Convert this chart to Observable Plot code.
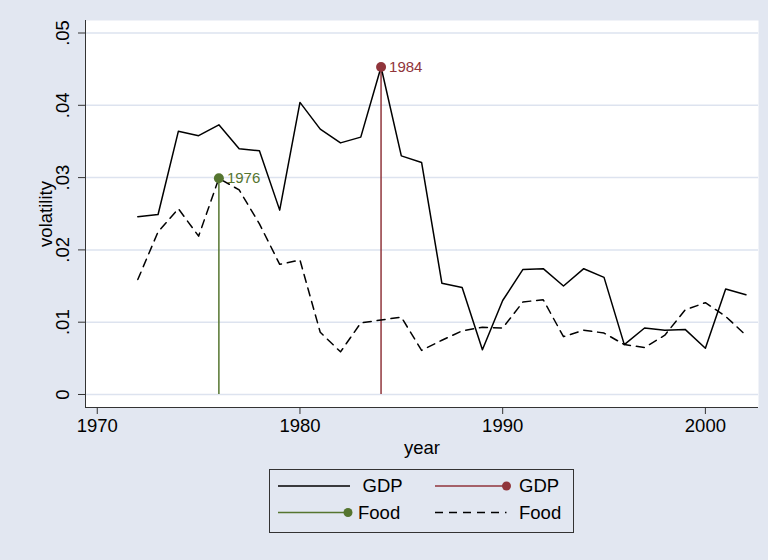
<!DOCTYPE html>
<html>
<head>
<meta charset="utf-8">
<script src="https://cdn.jsdelivr.net/npm/d3@7"></script>
<script src="https://cdn.jsdelivr.net/npm/@observablehq/plot@0.6"></script>
<style>
  html, body { margin: 0; padding: 0; background: #e2e7f1; }
  #wrap { position: relative; width: 768px; height: 560px; background: #e2e7f1; font-family: "Liberation Sans", Arial, sans-serif; }
  #legend { position: absolute; left: 269px; top: 469px; }
</style>
</head>
<body>
<div id="wrap"><div id="chart"></div><div id="legend"></div></div>
<script>
const years = [1972,1973,1974,1975,1976,1977,1978,1979,1980,1981,1982,1983,1984,1985,1986,1987,1988,1989,1990,1991,1992,1993,1994,1995,1996,1997,1998,1999,2000,2001,2002];
const gdp = [0.0246,0.0249,0.0364,0.0358,0.0373,0.0340,0.0337,0.0255,0.0404,0.0367,0.0348,0.0356,0.0453,0.0330,0.0321,0.0154,0.0148,0.0062,0.0130,0.0173,0.0174,0.0150,0.0174,0.0162,0.0069,0.0092,0.0089,0.0090,0.0064,0.0146,0.0138];
const food = [0.0159,0.0225,0.0257,0.0219,0.0299,0.0283,0.0236,0.0180,0.0186,0.0086,0.0059,0.0099,0.0103,0.0107,0.0061,0.0075,0.0088,0.0093,0.0092,0.0128,0.0131,0.0080,0.0089,0.0085,0.0069,0.0065,0.0082,0.0117,0.0127,0.0108,0.0082];
const gdpPeakYear = 1984;
const foodPeakYear = 1976;
const xTicks = [1970, 1980, 1990, 2000];
const yTicks = [0, 0.01, 0.02, 0.03, 0.04, 0.05];
const legendLabels = ["GDP", "GDP", "Food", "Food"];

const red = "#90353b", green = "#55752f", axisColor = "#333";
const gdpRows = years.map((y, i) => ({year: y, v: gdp[i]}));
const foodRows = years.map((y, i) => ({year: y, v: food[i]}));
const gdpPeak = gdpRows.filter(d => d.year === gdpPeakYear);
const foodPeak = foodRows.filter(d => d.year === foodPeakYear);
const xDom = [1969.42, 2002.62], yDom = [-0.0018, 0.05173];
const fmtY = d => d === 0 ? "0" : String(d).replace(/^0\./, ".");

const chart = Plot.plot({
  width: 768, height: 460,
  marginLeft: 85, marginRight: 10, marginTop: 20, marginBottom: 53,
  style: {background: "transparent", fontFamily: "'Liberation Sans', Arial, sans-serif", fontSize: "18.5px", color: "#000"},
  x: {domain: xDom, axis: null},
  y: {domain: yDom, axis: null},
  marks: [
    Plot.frame({fill: "white", stroke: null}),
    Plot.gridY(yTicks, {stroke: "#dde3ef", strokeOpacity: 1, strokeWidth: 1.5}),
    Plot.ruleX([xDom[0]], {stroke: axisColor, strokeWidth: 1}),
    Plot.ruleY([yDom[0]], {stroke: axisColor, strokeWidth: 1}),
    Plot.axisY(yTicks, {tickSize: 7, tickFormat: () => "", label: null, stroke: axisColor}),
    Plot.axisX(xTicks, {tickSize: 7, tickPadding: 4, fontSize: 18.5, tickFormat: d => String(d), label: null, stroke: axisColor, fill: "#000"}),
    Plot.text(yTicks, {y: d => d, text: fmtY, frameAnchor: "left", dx: -17, rotate: -90, textAnchor: "middle", lineAnchor: "bottom", fontSize: 18.5, fill: "#000"}),
    Plot.text(["volatility"], {frameAnchor: "left", dx: -34, rotate: -90, textAnchor: "middle", lineAnchor: "bottom", fontSize: 18.5, fill: "#000"}),
    Plot.text(["year"], {frameAnchor: "bottom", dy: 46, lineAnchor: "bottom", fontSize: 18.5, fill: "#000"}),
    Plot.ruleX(gdpPeak, {x: "year", y1: 0, y2: "v", stroke: red, strokeWidth: 1.5}),
    Plot.ruleX(foodPeak, {x: "year", y1: 0, y2: "v", stroke: green, strokeWidth: 1.5}),
    Plot.line(gdpRows, {x: "year", y: "v", stroke: "black", strokeWidth: 1.5}),
    Plot.line(foodRows, {x: "year", y: "v", stroke: "black", strokeWidth: 1.5, strokeDasharray: "8,6"}),
    Plot.dot(gdpPeak, {x: "year", y: "v", r: 5, fill: red, stroke: null}),
    Plot.dot(foodPeak, {x: "year", y: "v", r: 5, fill: green, stroke: null}),
    Plot.text(gdpPeak, {x: "year", y: "v", text: d => String(d.year), dx: 8, textAnchor: "start", fontSize: 15, fill: red}),
    Plot.text(foodPeak, {x: "year", y: "v", text: d => String(d.year), dx: 8, textAnchor: "start", fontSize: 15, fill: green})
  ]
});
document.getElementById("chart").appendChild(chart);

// Legend (HTML/SVG below the plot)
const lg = d3.select("#legend").append("svg").attr("width", 305).attr("height", 65)
  .style("font-family", "'Liberation Sans', Arial, sans-serif").style("font-size", "18.5px");
lg.append("rect").attr("x", 0.5).attr("y", 0.5).attr("width", 304).attr("height", 63).attr("fill", "none").attr("stroke", "#333");
const r1 = 17, r2 = 43.5;
lg.append("line").attr("x1", 9).attr("x2", 81).attr("y1", r1).attr("y2", r1).attr("stroke", "black").attr("stroke-width", 1.5);
lg.append("text").attr("x", 93.5).attr("y", r1).attr("dy", "0.35em").text(legendLabels[0]);
lg.append("line").attr("x1", 166).attr("x2", 237.5).attr("y1", r1).attr("y2", r1).attr("stroke", red).attr("stroke-width", 1.5);
lg.append("circle").attr("cx", 237.5).attr("cy", r1).attr("r", 4.5).attr("fill", red);
lg.append("text").attr("x", 250).attr("y", r1).attr("dy", "0.35em").text(legendLabels[1]);
lg.append("line").attr("x1", 9).attr("x2", 79).attr("y1", r2).attr("y2", r2).attr("stroke", green).attr("stroke-width", 1.5);
lg.append("circle").attr("cx", 79).attr("cy", r2).attr("r", 4.5).attr("fill", green);
lg.append("text").attr("x", 89).attr("y", r2).attr("dy", "0.35em").text(legendLabels[2]);
lg.append("line").attr("x1", 166).attr("x2", 237.5).attr("y1", r2).attr("y2", r2).attr("stroke", "black").attr("stroke-width", 1.5).attr("stroke-dasharray", "8,6");
lg.append("text").attr("x", 250).attr("y", r2).attr("dy", "0.35em").text(legendLabels[3]);
</script>
</body>
</html>
